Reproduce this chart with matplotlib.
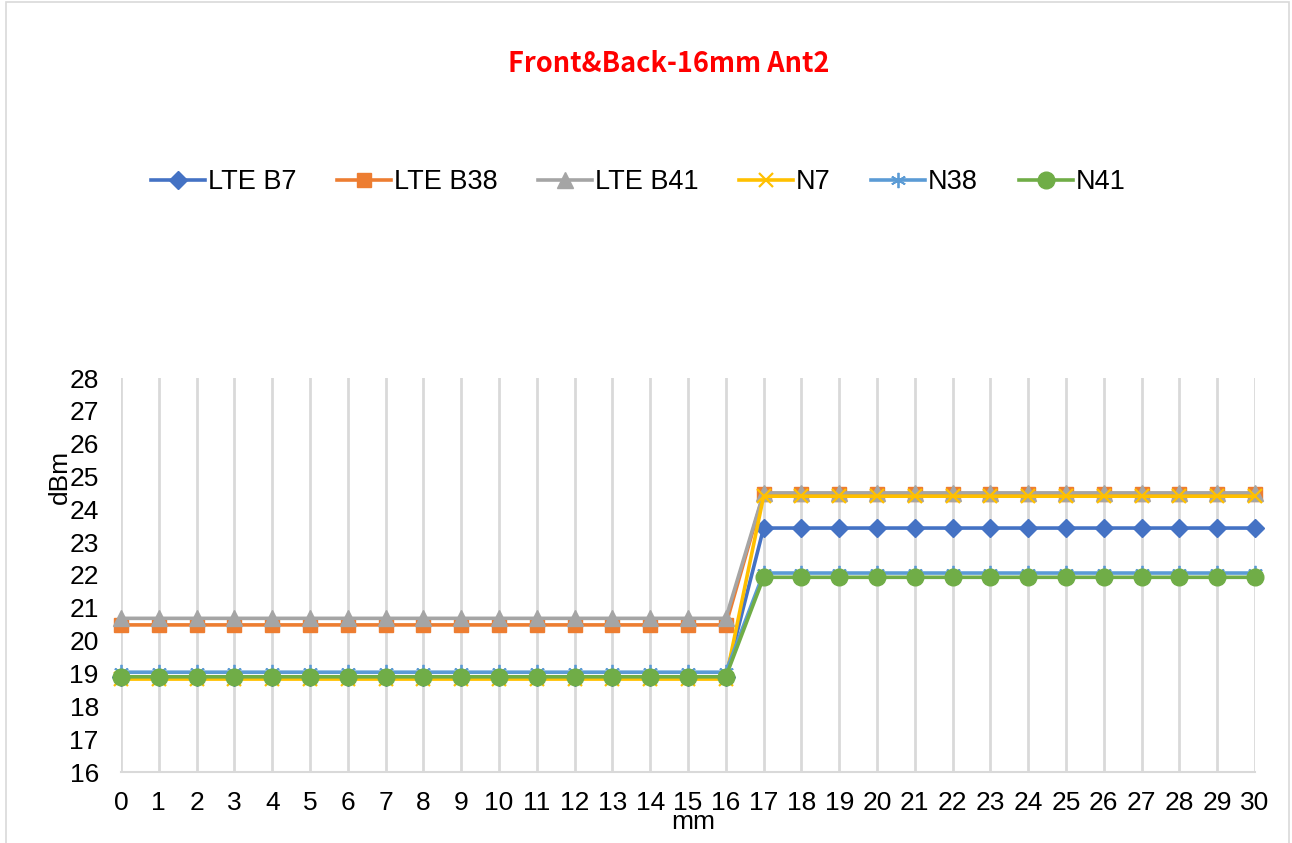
import matplotlib.pyplot as plt
from matplotlib.patches import Rectangle

plt.rcParams['font.family'] = ['Liberation Sans', 'DejaVu Sans']

# distance in mm
mm = list(range(31))

# (dBm)
lte_b7 = [18.9, 18.9, 18.9, 18.9, 18.9, 18.9, 18.9, 18.9, 18.9, 18.9, 18.9,
          18.9, 18.9, 18.9, 18.9, 18.9, 18.9,
          23.43, 23.43, 23.43, 23.43, 23.43, 23.43, 23.43, 23.43, 23.43,
          23.43, 23.43, 23.43, 23.43, 23.43]
lte_b38 = [20.48, 20.48, 20.48, 20.48, 20.48, 20.48, 20.48, 20.48, 20.48,
           20.48, 20.48, 20.48, 20.48, 20.48, 20.48, 20.48, 20.48,
           24.48, 24.48, 24.48, 24.48, 24.48, 24.48, 24.48, 24.48, 24.48,
           24.48, 24.48, 24.48, 24.48, 24.48]
lte_b41 = [20.68, 20.68, 20.68, 20.68, 20.68, 20.68, 20.68, 20.68, 20.68,
           20.68, 20.68, 20.68, 20.68, 20.68, 20.68, 20.68, 20.68,
           24.5, 24.5, 24.5, 24.5, 24.5, 24.5, 24.5, 24.5, 24.5,
           24.5, 24.5, 24.5, 24.5, 24.5]
n7 = [18.83, 18.83, 18.83, 18.83, 18.83, 18.83, 18.83, 18.83, 18.83, 18.83,
      18.83, 18.83, 18.83, 18.83, 18.83, 18.83, 18.83,
      24.4, 24.4, 24.4, 24.4, 24.4, 24.4, 24.4, 24.4, 24.4,
      24.4, 24.4, 24.4, 24.4, 24.4]
n38 = [19.04, 19.04, 19.04, 19.04, 19.04, 19.04, 19.04, 19.04, 19.04, 19.04,
       19.04, 19.04, 19.04, 19.04, 19.04, 19.04, 19.04,
       22.06, 22.06, 22.06, 22.06, 22.06, 22.06, 22.06, 22.06, 22.06,
       22.06, 22.06, 22.06, 22.06, 22.06]
n41 = [18.9, 18.9, 18.9, 18.9, 18.9, 18.9, 18.9, 18.9, 18.9, 18.9, 18.9,
       18.9, 18.9, 18.9, 18.9, 18.9, 18.9,
       21.93, 21.93, 21.93, 21.93, 21.93, 21.93, 21.93, 21.93, 21.93,
       21.93, 21.93, 21.93, 21.93, 21.93]

W, H = 1292, 843
fig = plt.figure(figsize=(W / 100, H / 100), dpi=100)
fig.patches.append(Rectangle((6 / W, -0.01), 1283 / W, 1.01 - 2 / H,
                             transform=fig.transFigure, fill=False,
                             edgecolor='#d9d9d9', linewidth=1.2))

ax = fig.add_axes([121 / W, (H - 772) / H, (1255 - 121) / W, (772 - 378) / H])

lw = 2.6
ax.plot(mm, lte_b7, color='#4472C4', lw=lw, marker='D', ms=9, label='LTE B7', clip_on=False)
ax.plot(mm, lte_b38, color='#ED7D31', lw=lw, marker='s', ms=10, label='LTE B38', clip_on=False)
ax.plot(mm, lte_b41, color='#A5A5A5', lw=lw, marker='^', ms=11, label='LTE B41', clip_on=False)
ax.plot(mm, n7, color='#FFC000', lw=lw, marker='x', ms=10, mew=1.6, label='N7', clip_on=False)
ax.plot(mm, n38, color='#5B9BD5', lw=lw, marker=(6, 2, 0), ms=11, mew=1.3, label='N38', clip_on=False)
ax.plot(mm, n41, color='#70AD47', lw=lw, marker='o', ms=12, label='N41', clip_on=False)

ax.set_xlim(0, 30)
ax.set_ylim(16, 28)
ax.set_xticks(mm)
ax.set_yticks(range(16, 29))
ax.tick_params(length=0, labelsize=19)
ax.tick_params(axis='x', pad=14)
ax.tick_params(axis='y', pad=16)
ax.grid(axis='x', color='#d9d9d9', lw=2)
ax.set_axisbelow(True)
for s in ['top', 'right', 'left']:
    ax.spines[s].set_visible(False)
ax.spines['bottom'].set_color('#d9d9d9')
ax.spines['bottom'].set_linewidth(1.5)

fig.text(669 / W, 1 - 64 / H, 'Front&Back-16mm Ant2', color='red',
         fontsize=19.5, fontweight='bold', ha='center', va='center',
         family=['Noto Sans CJK SC', 'DejaVu Sans'])
fig.text(60 / W, 1 - 477 / H, 'dBm', rotation=90, fontsize=19,
         ha='center', va='center')
fig.text(693 / W, 1 - 822 / H, 'mm', fontsize=19, ha='center', va='center')

fig.legend(loc='center', bbox_to_anchor=(638 / W, 1 - 182 / H), ncol=6,
           frameon=False, fontsize=19.5, handlelength=2.0, handletextpad=0.1,
           columnspacing=1.5)

fig.savefig('out.png', dpi=100)
